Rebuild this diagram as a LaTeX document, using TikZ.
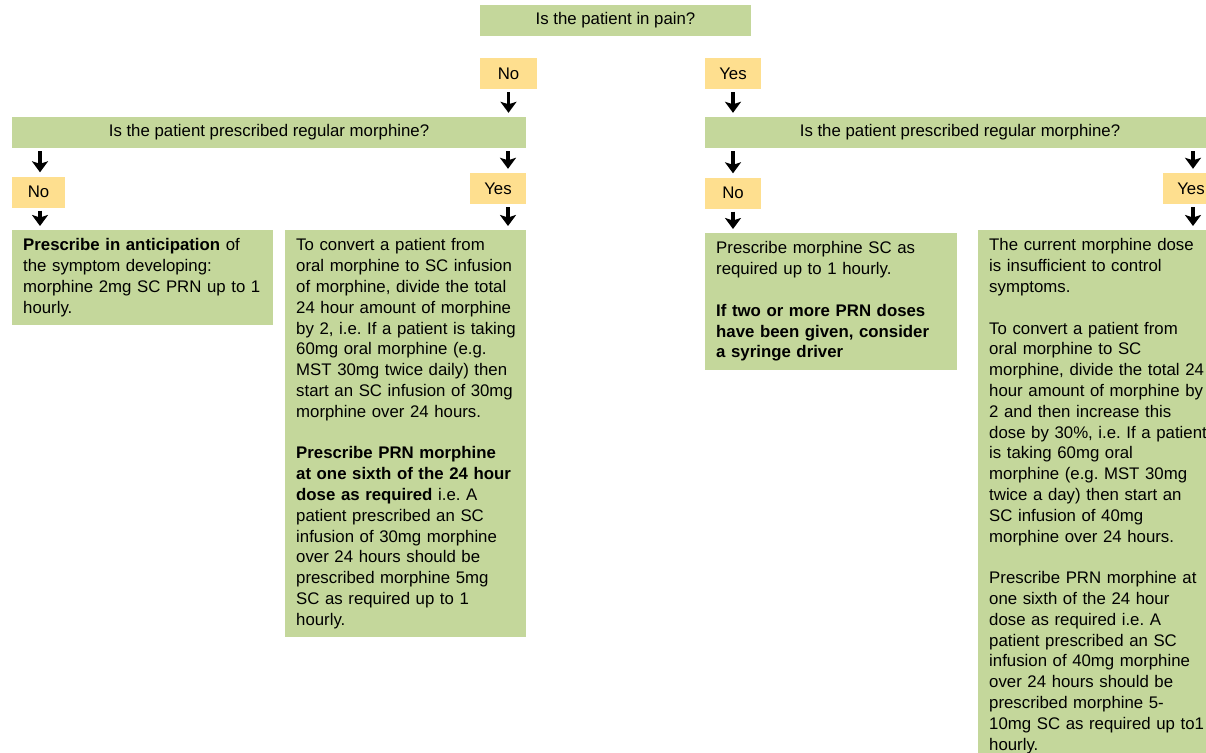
\documentclass[tikz,border=0pt]{standalone}
\usepackage{fontspec}
\setmainfont{Liberation Sans}
\usetikzlibrary{arrows.meta}

\definecolor{boxgreen}{HTML}{C4D79B}
\definecolor{boxyellow}{HTML}{FEDF8F}

\tikzstyle{block} = [rectangle, fill=boxgreen, text centered, minimum height=31pt, inner sep=0pt, font=\fontsize{16.8}{20.8}\selectfont]
\tikzstyle{answer} = [block, fill=boxyellow, minimum width=56pt]
\tikzstyle{info} = [rectangle, fill=boxgreen, anchor=north west, align=left, inner xsep=11pt, inner ysep=8.5pt, font=\fontsize{16.8}{20.8}\selectfont\frenchspacing]
\tikzstyle{arrow} = [draw, line width=3.5pt, -{Stealth[length=11pt, width=16pt, inset=2.5pt]}, shorten <=3pt, shorten >=4pt]

\begin{document}
\begin{tikzpicture}[x=1pt, y=-1pt]
    \useasboundingbox (0,0) rectangle (1206,752);
    \clip (0,0) rectangle (1206,752);

    \node[block, minimum width=271pt] (pain) at (615.5,20.5) {Is the patient in pain?};
    \node[answer, minimum width=57pt] (painNo) at (508.5,73.5) {No};
    \node[answer] (painYes) at (733,73.5) {Yes};

    \node[block, minimum width=514pt] (regL) at (269,132.5) {Is the patient prescribed regular morphine?};
    \node[block, minimum width=510pt] (regR) at (960,132.5) {Is the patient prescribed regular morphine?};

    \node[answer, minimum width=53pt] (regLNo) at (38.5,192) {No};
    \node[answer] (regLYes) at (498,188.5) {Yes};
    \node[answer] (regRNo) at (733,193) {No};
    \node[answer] (regRYes) at (1191,188.5) {Yes};

    \node[info, text width=239pt] (anticip) at (12,230) {\textbf{Prescribe in anticipation} of\\ the symptom developing:\\ morphine 2mg SC PRN up to 1\\ hourly.};
    \node[info, text width=219pt] (convertL) at (285,230) {To convert a patient from\\ oral morphine to SC infusion\\ of morphine, divide the total\\ 24 hour amount of morphine\\ \mbox{by 2, i.e. If a patient is taking}\\ 60mg oral morphine (e.g.\\ MST 30mg twice daily) then\\ start an SC infusion of 30mg\\ morphine over 24 hours.\\[20.8pt]
        \textbf{Prescribe PRN morphine}\\ \textbf{at one sixth of the 24 hour}\\ \textbf{dose as required} i.e. A\\ patient prescribed an SC\\ infusion of 30mg morphine\\ over 24 hours should be\\ prescribed morphine 5mg\\ SC as required up to 1\\ hourly.};
    \node[info, text width=230pt] (prnOnly) at (705,233) {Prescribe morphine SC as\\ required up to 1 hourly.\\[20.8pt]
        \textbf{If two or more PRN doses}\\ \textbf{have been given, consider}\\ \textbf{a syringe driver}};
    \node[info, text width=220pt] (convertR) at (978,230) {The current morphine dose\\ is insufficient to control\\ symptoms.\\[20.8pt]
        To convert a patient from\\ oral morphine to SC\\ morphine, divide the total 24\\ hour amount of morphine by\\ 2 and then increase this\\ dose by 30\%, i.e. If a patient\\ is taking 60mg oral\\ morphine (e.g. MST 30mg\\ twice a day) then start an\\ SC infusion of 40mg\\ morphine over 24 hours.\\[20.8pt]
        Prescribe PRN morphine at\\ one sixth of the 24 hour\\ dose as required i.e. A\\ patient prescribed an SC\\ infusion of 40mg morphine\\ over 24 hours should be\\ prescribed morphine 5-\\ 10mg SC as required up to1\\ hourly.};

    % arrows
    \draw [arrow] (painNo.south) -- (regL.north -| painNo.south);
    \draw [arrow] (painYes.south) -- (regR.north -| painYes.south);

    \draw [arrow] ([xshift=1.5pt]regLNo.north |- regL.south) -- ([xshift=1.5pt]regLNo.north);
    \draw [arrow] ([xshift=1.5pt]regLNo.south) -- ([xshift=1.5pt]regLNo.south |- anticip.north);
    \draw [arrow] ([xshift=10pt]regLYes.north |- regL.south) -- ([xshift=10pt]regLYes.north);
    \draw [arrow] ([xshift=10pt]regLYes.south) -- ([xshift=10pt]regLYes.south |- convertL.north);

    \draw [arrow] (regRNo.north |- regR.south) -- (regRNo.north);
    \draw [arrow] (regRNo.south) -- (regRNo.south |- prnOnly.north);
    \draw [arrow] ([xshift=2pt]regRYes.north |- regR.south) -- ([xshift=2pt]regRYes.north);
    \draw [arrow] ([xshift=2pt]regRYes.south) -- ([xshift=2pt]regRYes.south |- convertR.north);
\end{tikzpicture}
\end{document}
